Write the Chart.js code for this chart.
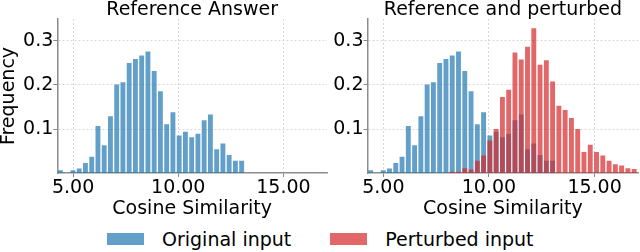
<!DOCTYPE html>
<html>
<head>
<meta charset="utf-8">
<script src="https://cdn.jsdelivr.net/npm/chart.js@4/dist/chart.umd.min.js"></script>
<style>
  body { margin: 0; background: #fff; font-family: "DejaVu Sans", sans-serif; }
  #wrap { position: relative; width: 640px; height: 252px; overflow: hidden; }
  .panel { position: absolute; top: 0; height: 220px; }
  #legend { position: absolute; left: 107px; top: 228px; display: flex; align-items: center; font-size: 19px; color: #000; }
  .item { display: flex; align-items: center; margin-right: 39px; }
  .box { width: 37px; height: 12px; margin-right: 18px; }
</style>
</head>
<body>
<div id="wrap">
  <div class="panel" style="left:0;width:330px"><canvas id="left-chart"></canvas></div>
  <div class="panel" style="left:330px;width:310px"><canvas id="right-chart"></canvas></div>
  <div id="legend">
    <div class="item"><div class="box" style="background:rgba(31,119,180,0.7)"></div>Original input</div>
    <div class="item"><div class="box" style="background:rgba(214,39,40,0.7)"></div>Perturbed input</div>
  </div>
</div>
<script>
// histogram bin centres (cosine similarity)
const binCenters = [4.400, 4.697, 4.994, 5.291, 5.588, 5.885, 6.182, 6.479, 6.776, 7.073,
  7.370, 7.667, 7.964, 8.261, 8.558, 8.855, 9.152, 9.449, 9.746, 10.043,
  10.340, 10.637, 10.934, 11.231, 11.528, 11.825, 12.122, 12.419, 12.716, 13.013,
  13.310, 13.607, 13.904, 14.201, 14.498, 14.795, 15.092, 15.389, 15.686, 15.983,
  16.280, 16.577, 16.874];

// frequency of original input
const originalFreq = [0.006, 0, 0.006, 0.010, 0.023, 0.037, 0.107, 0.063, 0.129, 0.201,
  0.206, 0.250, 0.259, 0.267, 0.276, 0.232, 0.186, 0.111, 0.138, 0.085,
  0.094, 0.081, 0.089, 0.120, 0.133, 0.054, 0.067, 0.041, 0.028, 0.028,
  0, 0, 0, 0, 0, 0, 0, 0, 0, 0,
  0, 0, 0];

// frequency of perturbed input
const perturbedFreq = [0, 0, 0, 0, 0, 0, 0, 0, 0, 0,
  0, 0, 0, 0.003, 0.003, 0.011, 0.008, 0.028, 0.040, 0.074,
  0.100, 0.173, 0.189, 0.274, 0.258, 0.287, 0.329, 0.246, 0.256, 0.208,
  0.153, 0.143, 0.125, 0.100, 0.048, 0.064, 0.048, 0.040, 0.028, 0.020,
  0.017, 0.011, 0.009];

const xTicks = [5, 10, 15];
const yTicks = [0.1, 0.2, 0.3];
const titles = ['Reference Answer', 'Reference and perturbed'];

const font = { family: 'DejaVu Sans', size: 19, lineHeight: 1 };

function toPoints(values) {
  return binCenters.map((x, i) => ({ x: x, y: values[i] }));
}

function makeChart(id, title, datasets, yWidth, padRight, showYTitle) {
  const ctx = document.getElementById(id).getContext('2d');
  return new Chart(ctx, {
    type: 'bar',
    data: { datasets: datasets },
    options: {
      responsive: true,
      maintainAspectRatio: false,
      animation: false,
      layout: { padding: { left: 0, right: padRight, top: 0, bottom: 0 } },
      plugins: {
        legend: { display: false },
        tooltip: { enabled: false },
        title: {
          display: true, text: title, color: '#000', fullSize: false,
          font: { family: 'DejaVu Sans', size: 19, weight: 'normal', lineHeight: 1 },
          padding: { top: 1, bottom: -1 }
        }
      },
      scales: {
        x: {
          type: 'linear', min: 4.25, max: 17.07, offset: false,
          afterBuildTicks: (s) => { s.ticks = xTicks.map(v => ({ value: v })); },
          ticks: { color: '#000', font: font, padding: 2, maxRotation: 0, autoSkip: false,
                   callback: (v) => v.toFixed(2) },
          grid: { offset: false, color: '#cfcfcf', lineWidth: 0.8, tickLength: 4, tickColor: '#888', tickWidth: 1, tickBorderDash: [] },
          border: { color: '#8c8c8c', width: 1.5, dash: [2, 2] },
          title: { display: true, text: 'Cosine Similarity', color: '#000', font: font, padding: { top: 0, bottom: 1 } }
        },
        y: {
          min: 0, max: 0.35,
          afterBuildTicks: (s) => { s.ticks = yTicks.map(v => ({ value: v })); },
          afterFit: (s) => { s.width = yWidth; },
          ticks: { color: '#000', font: font, padding: 0, callback: (v) => v.toFixed(1) },
          grid: { color: '#cfcfcf', lineWidth: 0.8, tickLength: 4, tickColor: '#888', tickWidth: 1, tickBorderDash: [] },
          border: { color: '#8c8c8c', width: 1.5, dash: [2, 2] },
          title: { display: showYTitle, text: 'Frequency', color: '#000', font: font, padding: 0 }
        }
      }
    }
  });
}

const blueSet = {
  label: 'Original input', data: toPoints(originalFreq), order: 1, grouped: false,
  backgroundColor: 'rgba(31,119,180,0.7)', borderWidth: 0,
  barPercentage: 0.78, categoryPercentage: 1
};
const redSet = {
  label: 'Perturbed input', data: toPoints(perturbedFreq), order: 0, grouped: false,
  backgroundColor: 'rgba(214,39,40,0.7)', borderWidth: 0,
  barPercentage: 0.78, categoryPercentage: 1
};

makeChart('left-chart', titles[0], [Object.assign({}, blueSet)], 57.3, 3, true);
makeChart('right-chart', titles[1], [Object.assign({}, blueSet), redSet], 37.5, 1.7, false);
</script>
</body>
</html>
